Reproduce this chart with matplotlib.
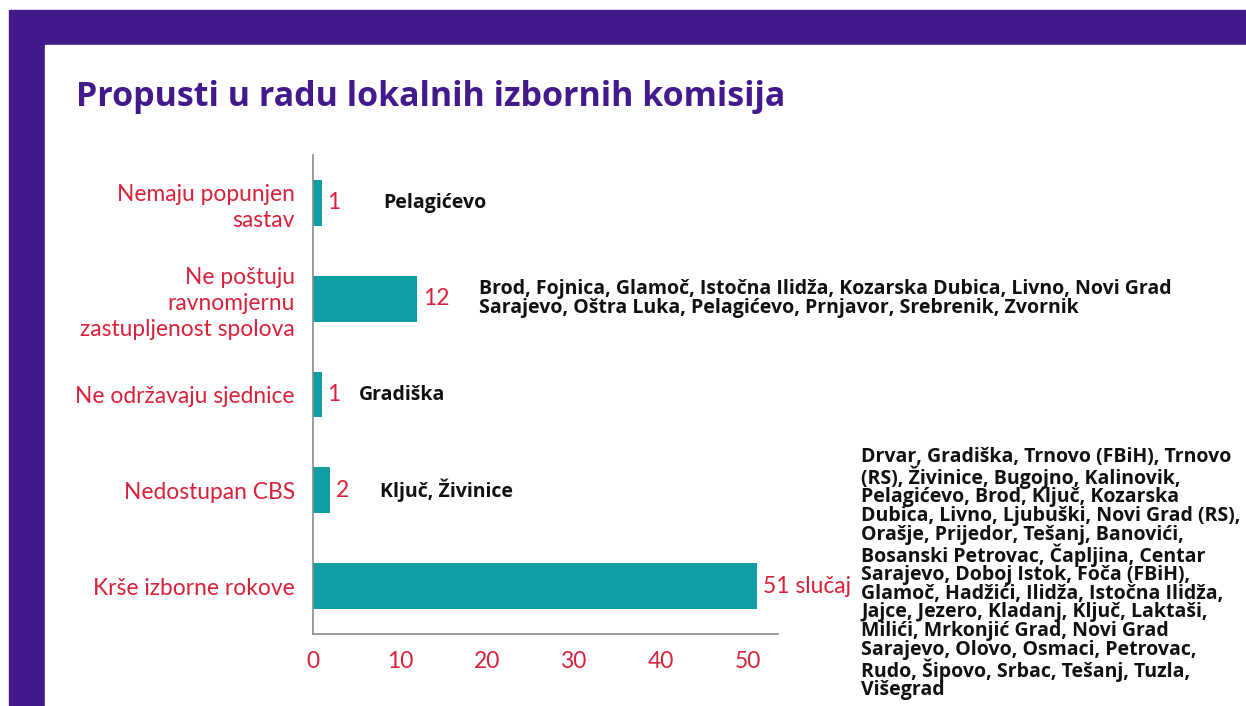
"""
Propusti u radu lokalnih izbornih komisija - horizontal bar chart.
"""
import matplotlib.pyplot as plt
from matplotlib.patches import Rectangle

plt.close("all")

categories = [
    "Nemaju popunjen\nsastav",
    "Ne poštuju\nravnomjernu\nzastupljenost spolova",
    "Ne održavaju sjednice",
    "Nedostupan CBS",
    "Krše izborne rokove",
]
counts = [1, 12, 1, 2, 51]
value_labels = ["1", "12", "1", "2", "51 slučaj"]
municipalities = [
    "Pelagićevo",
    "Brod, Fojnica, Glamoč, Istočna Ilidža, Kozarska Dubica, Livno, Novi Grad\n"
    "Sarajevo, Oštra Luka, Pelagićevo, Prnjavor, Srebrenik, Zvornik",
    "Gradiška",
    "Ključ, Živinice",
    "Drvar, Gradiška, Trnovo (FBiH), Trnovo\n"
    "(RS), Živinice, Bugojno, Kalinovik,\n"
    "Pelagićevo, Brod, Ključ, Kozarska\n"
    "Dubica, Livno, Ljubuški, Novi Grad (RS),\n"
    "Orašje, Prijedor, Tešanj, Banovići,\n"
    "Bosanski Petrovac, Čapljina, Centar\n"
    "Sarajevo, Doboj Istok, Foča (FBiH),\n"
    "Glamoč, Hadžići, Ilidža, Istočna Ilidža,\n"
    "Jajce, Jezero, Kladanj, Ključ, Laktaši,\n"
    "Milići, Mrkonjić Grad, Novi Grad\n"
    "Sarajevo, Olovo, Osmaci, Petrovac,\n"
    "Rudo, Šipovo, Srbac, Tešanj, Tuzla,\n"
    "Višegrad",
]
ticks = [0, 10, 20, 30, 40, 50]

# offset (points) of the municipality text from the bar end
note_offsets = [(44, 0), (44, 0), (27, 0), (36, 0), (75, 9)]

purple = "#431a8c"
teal = "#0f9ea3"
red = "#d8213a"

fig = plt.figure(figsize=(12.46, 7.06), dpi=100)
fig.patches.append(Rectangle((9 / 1246, 0), 1, 1 - 10 / 706,
                             transform=fig.transFigure, color=purple, zorder=-2))
fig.patches.append(Rectangle((45 / 1246, 0), 1, 1 - 45 / 706,
                             transform=fig.transFigure, color="white", zorder=-1))

fig.text(76 / 1246, 1 - 97 / 706, "Propusti u radu lokalnih izbornih komisija",
         family="Open Sans", weight="bold", fontsize=24.5, color=purple,
         va="center", ha="left")

ax = fig.add_axes([313 / 1246, 1 - 634 / 706, 465 / 1246, 479 / 706])
ax.set_facecolor("none")
ypos = list(range(len(categories)))
ax.barh(ypos, counts, height=0.48, color=teal)
ax.set_xlim(0, 53.4)
ax.set_ylim(len(categories) - 0.5, -0.5)

ax.set_yticks(ypos)
ax.set_yticklabels(categories, family="Lato", fontsize=16.4, color=red,
                   linespacing=1.3)
ax.set_xticks(ticks)
ax.set_xticklabels([str(t) for t in ticks], family="Lato", fontsize=16.4, color=red)
ax.tick_params(axis="y", length=0, pad=13)
ax.tick_params(axis="x", length=0, pad=12)
for side in ["top", "right"]:
    ax.spines[side].set_visible(False)
for side in ["left", "bottom"]:
    ax.spines[side].set_color("#8a8a8a")
    ax.spines[side].set_linewidth(1.2)

for y, c, lab, note, off in zip(ypos, counts, value_labels, municipalities, note_offsets):
    ax.annotate(lab, (c, y), xytext=(4, 0), textcoords="offset points",
                family="Lato", fontsize=16.4, color=red, va="center", ha="left")
    ax.annotate(note, (c, y), xytext=off, textcoords="offset points",
                family="Open Sans", weight="bold", fontsize=14.0, color="#111111",
                va="center", ha="left", linespacing=0.91,
                annotation_clip=False)

fig.savefig("out.png", dpi=100)
